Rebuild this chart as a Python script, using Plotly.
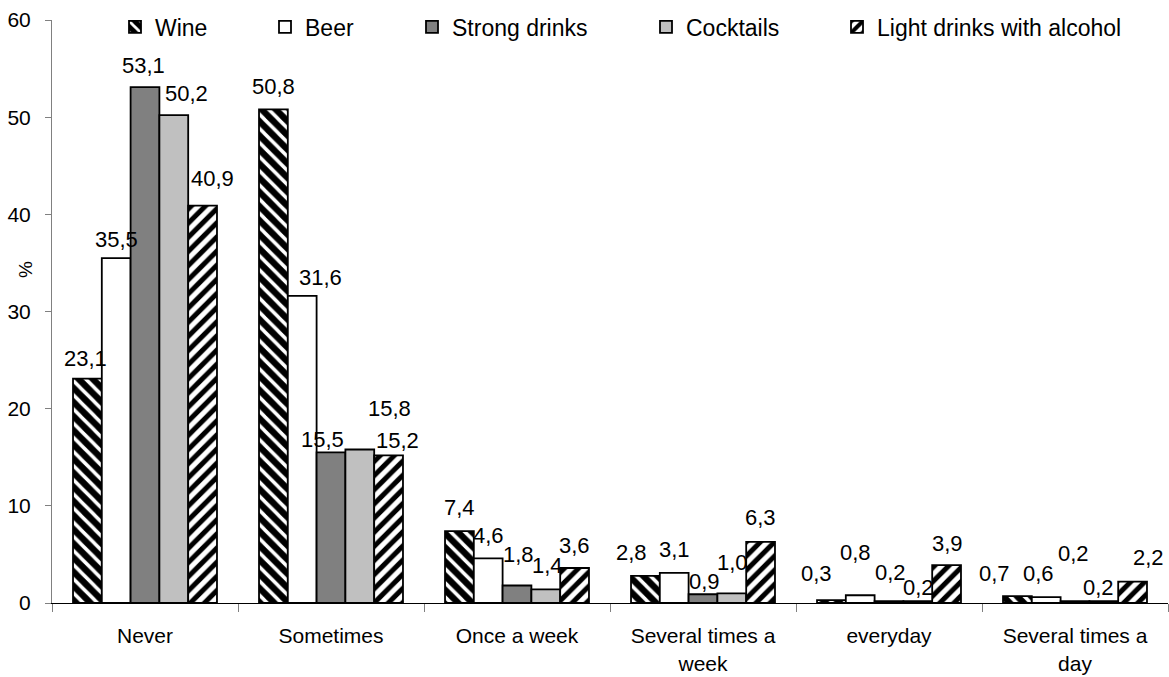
import plotly.graph_objects as go

categories = ["Never", "Sometimes", "Once a week", "Several times a<br>week",
              "everyday", "Several times a<br>day"]
wine = [23.1, 50.8, 7.4, 2.8, 0.3, 0.7]
beer = [35.5, 31.6, 4.6, 3.1, 0.8, 0.6]
strong = [53.1, 15.5, 1.8, 0.9, 0.2, 0.2]
cocktails = [50.2, 15.8, 1.4, 1.0, 0.2, 0.2]
light = [40.9, 15.2, 3.6, 6.3, 3.9, 2.2]
y_ticks = [0, 10, 20, 30, 40, 50, 60]

W, H = 1169, 677
FONT = "Liberation Sans, Arial, sans-serif"
FS = 21          # axis tick labels
FS_LABEL = 22    # value labels
FS_LEGEND = 23
BARGAP = 0.226

series = [
    ("Wine", wine, dict(color="black",
                        pattern=dict(shape="\\", bgcolor="black", fgcolor="white",
                                     size=10, solidity=0.35, fillmode="replace"))),
    ("Beer", beer, dict(color="white")),
    ("Strong drinks", strong, dict(color="#808080")),
    ("Cocktails", cocktails, dict(color="#c0c0c0")),
    ("Light drinks with alcohol", light, dict(color="white",
                        pattern=dict(shape="/", bgcolor="white", fgcolor="black",
                                     size=10, solidity=0.5, fillmode="replace"))),
]

# value-label nudges (px): (dx, dy of label centre relative to bar top),
# one row per series, one pair per category
label_nudge = [
    [(-2, -20), (0, -23), (0, -24), (-14, -23), (-15, -27), (-23, -23)],
    [(0, -19), (18, -18), (0, -23), (0, -23), (-5, -43), (-8, -24)],
    [(-2, -22), (-9, -13), (1, -31), (1, -13), (1, -29), (-2, -48)],
    [(13, -22), (30, -41), (2, -24), (1, -31), (1, -14), (-5, -14)],
    [(10, -27), (9, -15), (0, -23), (0, -24), (1, -22), (16, -24)],
]

# left pixel of each legend entry's text
legend_text_x = [155, 305, 452, 686, 877]

n_series = len(series)
bar_w = (1 - BARGAP) / n_series

fig = go.Figure()
annotations = []
for i, (name, vals, marker) in enumerate(series):
    leg = "legend" if i == 0 else f"legend{i + 1}"
    marker = dict(marker, line=dict(color="black", width=1.8))
    fig.add_trace(go.Bar(
        name=name, x=categories, y=vals, marker=marker,
        legend=leg, showlegend=True,
    ))
    offset = (i - (n_series - 1) / 2) * bar_w
    for j, v in enumerate(vals):
        dx, dy = label_nudge[i][j]
        annotations.append(dict(
            x=j + offset, y=v, xref="x", yref="y",
            text=f"{v:.1f}".replace(".", ","), showarrow=False,
            xanchor="center", yanchor="middle",
            xshift=dx, yshift=-dy,
            font=dict(size=FS_LABEL, family=FONT, color="black"),
        ))

annotations.append(dict(
    text="%", textangle=-90, xref="paper", yref="paper",
    x=-27 / 1116, y=(603 - 270) / 583, xanchor="center", yanchor="middle",
    showarrow=False, font=dict(size=19, family=FONT, color="black"),
))

layout_legends = {}
for i, tx in enumerate(legend_text_x):
    key = "legend" if i == 0 else f"legend{i + 1}"
    layout_legends[key] = dict(
        xref="container", yref="container",
        x=(tx - 40) / W, xanchor="left",
        y=1 - 27 / H, yanchor="middle",
        orientation="h", bgcolor="rgba(0,0,0,0)", borderwidth=0,
        font=dict(size=FS_LEGEND, family=FONT, color="black"),
        itemclick=False, itemdoubleclick=False,
    )

fig.update_layout(
    width=W, height=H,
    margin=dict(l=52, r=1, t=20, b=74, autoexpand=False),
    paper_bgcolor="white", plot_bgcolor="white",
    barmode="group", bargap=BARGAP, bargroupgap=0,
    showlegend=True,
    font=dict(family=FONT, size=FS, color="black"),
    annotations=annotations,
    **layout_legends,
)
fig.update_yaxes(
    range=[0, 60], tickvals=y_ticks, showgrid=False, zeroline=False,
    showline=True, linecolor="#808080", linewidth=1,
    ticks="outside", ticklen=6, tickcolor="#808080",
    ticklabelstandoff=10,
    tickfont=dict(size=FS, family=FONT),
)
fig.update_xaxes(
    showgrid=False, showline=True, linecolor="black", linewidth=1,
    ticks="outside", ticklen=8, tickcolor="#808080", tickson="boundaries",
    ticklabelstandoff=14,
    tickfont=dict(size=FS, family=FONT),
)
fig.write_html("out.html")
